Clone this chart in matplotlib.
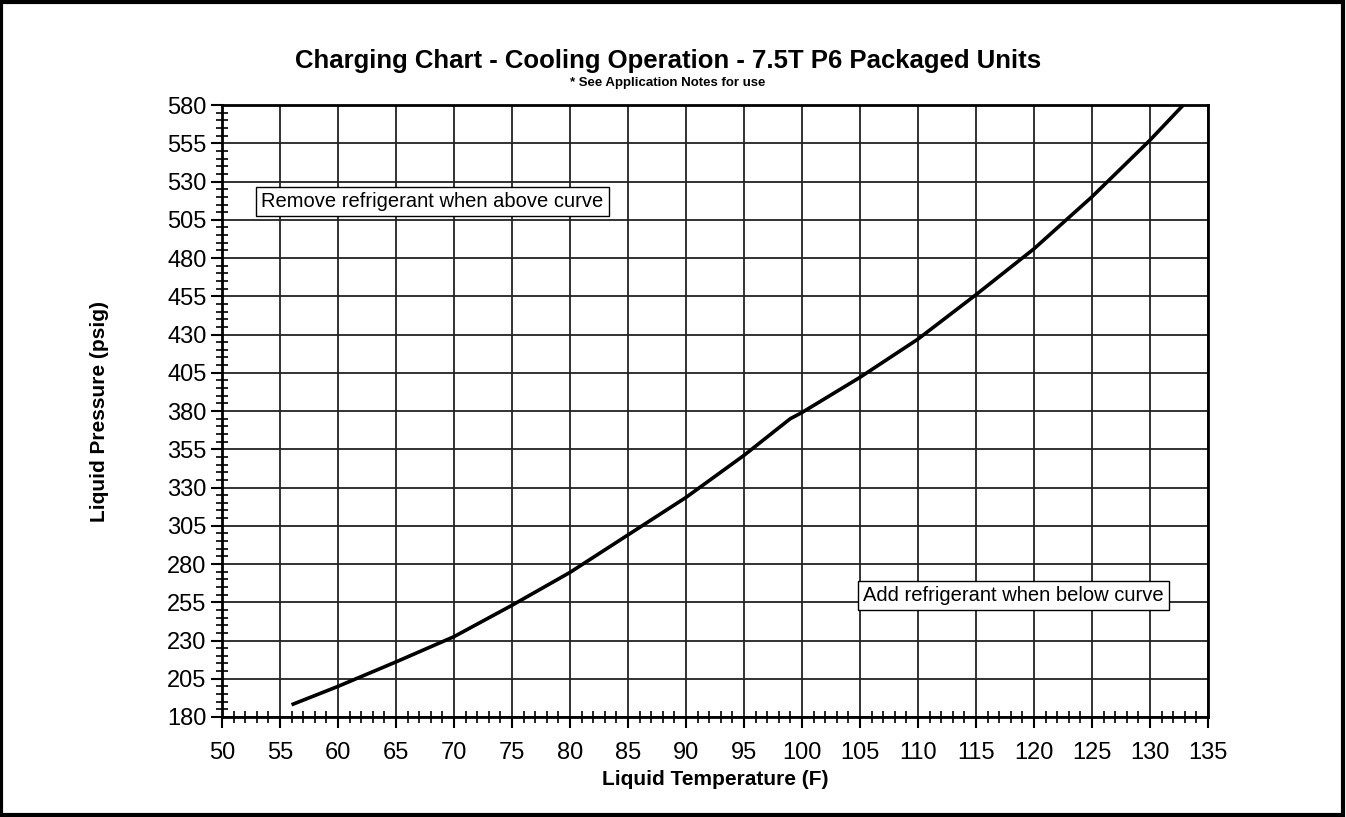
import matplotlib
matplotlib.use('Agg')
import matplotlib.pyplot as plt
from matplotlib.patches import Rectangle
from matplotlib.ticker import MultipleLocator

plt.rcParams['font.family'] = ['Liberation Sans', 'DejaVu Sans']

# curve
temp_f = [56, 60, 65, 70, 75, 80, 85, 90, 95, 99, 100, 105, 110, 115, 120, 125, 130, 133]
press_psig = [188, 200, 216, 232.5, 253, 274.5, 299, 323.5, 351, 375, 379, 402, 427, 456, 486, 520, 557, 581]

x_ticks = list(range(50, 136, 5))
y_ticks = list(range(180, 581, 25))

fig = plt.figure(figsize=(13.46, 8.17), dpi=100)
ax = fig.add_axes([0.1649, 0.1224, 0.7325, 0.749])

ax.plot(temp_f, press_psig, color='black', linewidth=2.6, solid_capstyle='butt', clip_on=True)

ax.set_xlim(50, 135)
ax.set_ylim(180, 580)
ax.set_xticks(x_ticks)
ax.set_yticks(y_ticks)
ax.xaxis.set_minor_locator(MultipleLocator(1))
ax.yaxis.set_minor_locator(MultipleLocator(5))
ax.grid(True, which='major', color='#222222', linewidth=1.3)
ax.set_axisbelow(True)

ax.tick_params(which='major', direction='out', length=8, width=1.5, labelsize=17)
ax.tick_params(which='minor', direction='inout', length=9, width=1.2)
ax.tick_params(axis='x', which='major', pad=10)
ax.tick_params(axis='y', which='major', pad=3)
for s in ax.spines.values():
    s.set_linewidth(2)

ax.set_xlabel('Liquid Temperature (F)', fontsize=15, fontweight='bold', labelpad=4)
ax.set_ylabel('Liquid Pressure (psig)', fontsize=15, fontweight='bold', labelpad=42)

fig.text(0.4963, 0.925, 'Charging Chart - Cooling Operation - 7.5T P6 Packaged Units',
         ha='center', va='center', fontsize=18.5, fontweight='bold')
fig.text(0.4963, 0.898, '* See Application Notes for use',
         ha='center', va='center', fontsize=9.5, fontweight='bold')

box = dict(boxstyle='square,pad=0.25', facecolor='white', edgecolor='black', linewidth=1)
ax.text(53.4, 517, 'Remove refrigerant when above curve', fontsize=14.5,
        ha='left', va='center', bbox=box)
ax.text(105.3, 259.5, 'Add refrigerant when below curve', fontsize=14.5,
        ha='left', va='center', bbox=box)

fig.patches.append(Rectangle((0.001, 0.002), 0.997, 0.996, transform=fig.transFigure,
                             fill=False, edgecolor='black', linewidth=3))

fig.savefig('out.png', dpi=100)
